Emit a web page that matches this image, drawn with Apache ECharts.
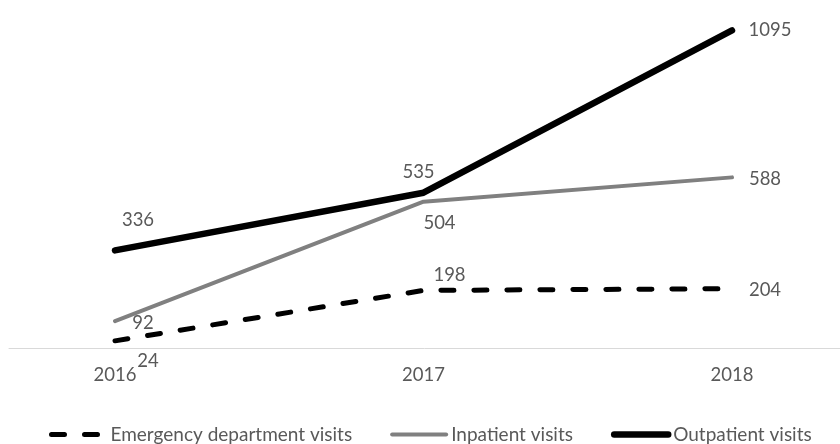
<!DOCTYPE html>
<html>
<head>
<meta charset="utf-8">
<script src="https://cdn.jsdelivr.net/npm/echarts@6/dist/echarts.min.js"></script>
<style>
html,body{margin:0;padding:0;background:#fff;}
#chart{width:840px;height:444px;}
</style>
</head>
<body>
<div id="chart"></div>
<script>
const categories = ['2016', '2017', '2018'];
const seriesNames = ['Emergency department visits', 'Inpatient visits', 'Outpatient visits'];
const emergencyVisits = [24, 198, 204];
const inpatientVisits = [92, 504, 588];
const outpatientVisits = [336, 535, 1095];

// label offsets (style only, from point centre)
const labelOffsets = [
  [[33, 20], [26, -15], [33, 1]],
  [[28, 2], [16, 21], [33, 2]],
  [[23, -30], [-5, -21], [38, 0]]
];
const lineStyles = [
  { color: '#000000', width: 5, type: [13, 20], cap: 'round' },
  { color: '#808080', width: 4, type: 'solid', cap: 'round' },
  { color: '#000000', width: 6.5, type: 'solid', cap: 'round' }
];

const FONT = 'Lato';
const TEXT = '#595959';
const values = [emergencyVisits, inpatientVisits, outpatientVisits];

const series = seriesNames.map((name, s) => ({
  name: name,
  type: 'line',
  xAxisIndex: 0,
  yAxisIndex: 0,
  symbol: 'circle',
  symbolSize: 1,
  showSymbol: true,
  itemStyle: { color: 'rgba(0,0,0,0)' },
  lineStyle: Object.assign({ join: 'round' }, lineStyles[s]),
  data: values[s].map((v, i) => ({
    value: v,
    label: {
      show: true,
      position: 'inside',
      offset: labelOffsets[s][i],
      align: 'center',
      verticalAlign: 'middle',
      color: TEXT,
      fontFamily: FONT,
      fontSize: 18.5
    }
  })),
  z: 2 + s
}));

const chart = echarts.init(document.getElementById('chart'), null, { renderer: 'canvas' });
chart.setOption({
  animation: false,
  backgroundColor: '#ffffff',
  grid: [
    { left: 115, right: 108, top: -8.5, bottom: 96.2, containLabel: false },
    { left: 9, right: 0, top: -8.5, bottom: 96.2, containLabel: false }
  ],
  xAxis: [
    {
      type: 'category',
      gridIndex: 0,
      data: categories,
      boundaryGap: false,
      axisLine: { show: false },
      axisTick: { show: false },
      axisLabel: { color: TEXT, fontFamily: FONT, fontSize: 18.5, margin: 18 },
      splitLine: { show: false }
    },
    {
      type: 'value',
      gridIndex: 1,
      min: 0,
      max: 1,
      axisLine: { show: true, onZero: false, lineStyle: { color: '#d9d9d9', width: 1 } },
      axisTick: { show: false },
      axisLabel: { show: false },
      splitLine: { show: false }
    }
  ],
  yAxis: [
    { type: 'value', gridIndex: 0, min: 0, max: 1200, show: false, splitLine: { show: false } },
    { type: 'value', gridIndex: 1, min: 0, max: 1, show: false, splitLine: { show: false } }
  ],
  legend: {
    data: seriesNames.map((n, s) => ({
      name: n,
      itemStyle: { color: 'rgba(0,0,0,0)' },
      lineStyle: { color: lineStyles[s].color, width: lineStyles[s].width, type: lineStyles[s].type, cap: 'round' }
    })),
    left: 44,
    top: 420,
    itemWidth: 54,
    itemHeight: 20,
    itemGap: 38,
    textStyle: { color: TEXT, fontFamily: FONT, fontSize: 19 }
  },
  series: series
});
</script>
</body>
</html>
